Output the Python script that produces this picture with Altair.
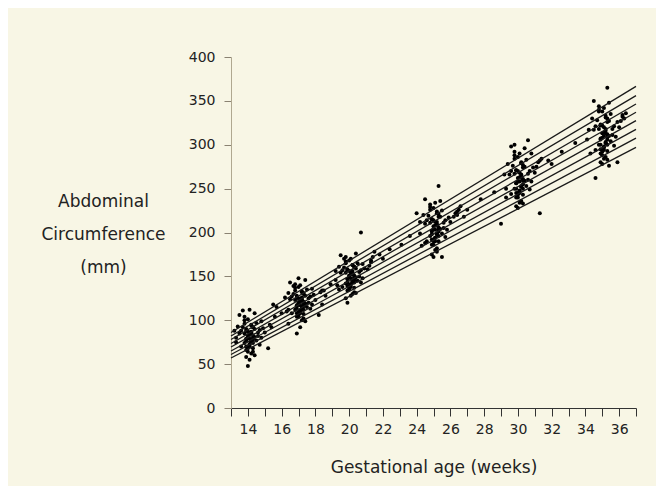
import altair as alt
import pandas as pd

# ---- data ----
ages14 = [14.1,14.3,13.9,14.4,13.8,14.2,14.0,14.6,13.9,13.6,14.5,14.0,14.3,13.7,14.1,14.8,14.2,13.5,14.5,14.3,13.9,14.7,13.8,14.2,14.9,13.6,14.4,13.9,14.6,13.4,15.0,14.1,13.3,15.3,14.3,13.2,15.5,14.0,13.8,14.7,15.7,13.3,15.2,14.1,13.5,15.4,14.4,13.7,14.8,14.2,14.0,14.2,13.9,14.3,14.1]
ac14 = [84,78,90,81,74,95,70,86,66,88,77,101,83,92,73,80,62,85,97,68,79,89,104,76,91,70,108,58,82,93,86,112,75,95,64,88,118,48,100,72,115,80,68,55,106,92,60,111,99,87,80,86,76,92,70]
core14_age = [14.0,14.2,13.9,14.3,14.1,13.8,14.4,14.0,14.2,13.9,14.1,14.3,13.8,14.0,14.2,14.1,13.9,14.3,14.0,14.2]
core14_ac = [82,76,88,80,72,85,90,68,94,78,86,74,96,64,84,79,70,92,87,75]

ages17 = [17.1,17.3,16.9,17.4,16.8,17.2,17.0,17.6,16.9,16.6,17.5,17.0,17.3,16.7,17.1,17.8,17.2,16.5,17.5,17.3,16.9,17.7,16.8,17.2,17.9,16.6,17.4,16.9,17.6,16.4,18.0,17.1,16.3,18.3,17.3,16.2,18.5,17.0,16.8,17.7,18.6,16.4,18.2,17.1,16.5,18.4,17.4,16.7,17.8,17.2,17.0,17.2,16.9,17.3,17.1]
ac17 = [122,116,128,119,112,133,109,125,104,127,115,138,121,130,111,118,100,124,135,107,117,127,141,114,129,108,146,85,120,131,123,140,110,132,102,126,134,148,137,113,128,96,106,92,143,118,99,139,136,124,119,126,113,131,108]
core17_age = [17.0,17.2,16.9,17.3,17.1,16.8,17.4,17.0,17.2,16.9,17.1,17.3,16.8,17.0,17.2,17.1,16.9,17.3,17.0,17.2]
core17_ac = [120,114,126,118,110,123,128,106,132,116,124,112,134,104,122,117,108,130,125,113]

ages20 = [20.1,20.3,19.9,20.4,19.8,20.2,20.0,20.6,19.9,19.6,20.5,20.0,20.3,19.7,20.1,20.8,20.2,19.5,20.5,20.3,19.9,20.7,19.8,20.2,20.9,19.6,20.4,19.9,20.6,19.4,20.7,20.1,19.3,21.2,20.3,19.2,21.4,19.8,19.8,20.7,21.5,19.4,21.1,20.1,19.5,21.3,20.4,19.7,20.8,20.2,20.0,20.2,19.9,20.3,20.1]
ac20 = [152,146,158,149,142,163,139,155,134,157,145,168,151,160,141,148,130,154,165,137,147,157,172,144,159,138,176,120,150,161,200,170,140,162,132,156,172,125,167,143,178,135,158,128,174,166,131,170,164,153,149,156,143,161,138]
core20_age = [20.0,20.2,19.9,20.3,20.1,19.8,20.4,20.0,20.2,19.9,20.1,20.3,19.8,20.0,20.2,20.1,19.9,20.3,20.0,20.2]
core20_ac = [151,145,157,149,141,154,159,137,163,147,155,143,165,135,153,148,139,161,156,144]

ages25 = [25.1,25.3,24.9,25.4,24.8,25.2,25.0,25.6,24.9,24.6,25.5,25.0,25.3,24.7,25.1,25.8,25.2,24.5,25.5,25.3,24.9,25.7,24.8,25.2,25.9,24.6,25.4,24.9,25.6,24.4,26.0,25.1,24.3,26.3,25.2,24.2,26.5,25.0,24.8,25.7,26.6,24.5,26.2,25.1,24.5,26.4,25.3,25.5,24.0,25.2,25.0,25.2,24.9,25.3,25.1]
ac25 = [208,201,215,204,196,222,192,211,186,214,199,228,206,219,194,203,182,210,225,190,202,214,232,198,217,190,236,175,205,220,212,234,185,222,178,212,226,172,229,195,230,188,218,180,238,224,253,172,222,209,204,212,198,218,190]
core25_age = [25.0,25.2,24.9,25.3,25.1,24.8,25.4,25.0,25.2,24.9,25.1,25.3,24.8,25.0,25.2,25.1,24.9,25.3,25.0,25.2]
core25_ac = [207,199,215,204,194,211,218,190,224,201,212,196,226,186,209,203,192,221,214,198]

ages30 = [30.1,30.3,29.9,30.4,29.8,30.2,30.0,30.6,29.9,29.6,30.5,30.0,30.3,29.7,30.1,30.8,30.2,29.5,30.5,30.3,29.9,30.7,29.8,30.2,30.9,29.6,30.4,29.9,30.6,29.4,31.0,30.1,29.3,31.2,30.3,29.2,31.4,30.0,29.8,30.7,31.3,29.0,31.1,30.1,29.6,31.3,30.6,29.8,30.8,30.2,30.0,30.2,29.9,30.3,30.1]
ac30 = [263,255,271,259,250,279,245,267,240,270,253,286,261,276,248,258,236,266,283,243,256,270,292,252,274,244,296,230,260,278,268,290,240,280,233,266,284,228,288,249,222,210,275,234,298,282,305,300,290,262,258,266,250,274,245]
core30_age = [30.0,30.2,29.9,30.3,30.1,29.8,30.4,30.0,30.2,29.9,30.1,30.3,29.8,30.0,30.2,30.1,29.9,30.3,30.0,30.2]
core30_ac = [262,253,271,259,247,267,275,243,280,256,268,250,284,240,265,258,245,277,270,252]

ages35 = [35.1,35.3,34.9,35.4,34.8,35.2,35.0,35.6,34.9,34.6,35.5,35.0,35.3,34.7,35.1,35.8,35.2,34.5,35.5,35.3,34.9,35.7,34.8,35.2,35.9,34.6,35.4,34.9,35.6,34.4,36.0,35.1,34.3,36.2,35.3,34.2,36.4,35.0,34.8,35.7,36.3,34.6,36.1,35.1,34.5,36.2,35.3,35.4,35.9,35.2,35.0,35.2,34.9,35.3,35.1]
ac35 = [314,306,322,310,300,331,295,318,290,321,304,338,312,328,298,309,286,317,335,293,307,321,344,302,326,294,348,280,311,330,320,342,290,332,283,317,336,278,340,299,330,262,327,284,350,334,365,276,280,313,308,318,300,326,294]
core35_age = [35.0,35.2,34.9,35.3,35.1,34.8,35.4,35.0,35.2,34.9,35.1,35.3,34.8,35.0,35.2,35.1,34.9,35.3,35.0,35.2]
core35_ac = [313,303,323,309,297,318,327,292,333,306,320,300,338,288,316,310,295,330,322,302]

ages_mid = [15.6,16.0,18.4,18.9,19.2,21.3,21.8,22.4,23.1,23.6,24.2,26.4,27.0,27.8,28.6,29.3,31.8,32.6,33.4,34.1,22.0,26.8,32.0,16.4]
ac_mid = [104,108,134,141,146,168,175,181,186,196,199,220,226,238,246,250,282,292,302,306,170,218,278,112]

# centile lines: value at 13 weeks and at 37 weeks
line_ages = [13, 37]
line_left = [57, 61, 65, 69.5, 73.5, 78, 82, 86]
line_right = [297, 307.5, 317.5, 327.5, 337, 346.5, 356, 366.5]

x_ticks = list(range(13, 38))
y_ticks = list(range(0, 401, 50))

# ---- tables ----
pts = []
for a_list, v_list in [(ages14, ac14), (core14_age, core14_ac),
                       (ages17, ac17), (core17_age, core17_ac),
                       (ages20, ac20), (core20_age, core20_ac),
                       (ages25, ac25), (core25_age, core25_ac),
                       (ages30, ac30), (core30_age, core30_ac),
                       (ages35, ac35), (core35_age, core35_ac),
                       (ages_mid, ac_mid)]:
    for a, v in zip(a_list, v_list):
        pts.append({"age": a, "ac": v})
pts_df = pd.DataFrame(pts)

rows = []
for i, (l, r) in enumerate(zip(line_left, line_right)):
    rows.append({"line": i, "age": line_ages[0], "ac": l})
    rows.append({"line": i, "age": line_ages[1], "ac": r})
lines_df = pd.DataFrame(rows)

FONT = "DejaVu Sans"

x_enc = alt.X("age:Q", scale=alt.Scale(domain=[13, 37], nice=False, zero=False),
              axis=alt.Axis(values=x_ticks, labelExpr="datum.value % 2 == 0 ? datum.label : ''",
                            title="Gestational age (weeks)", grid=False,
                            tickSize=8, labelPadding=6, tickColor="#333333",
                            domainColor="#333333", labelFlush=False, labelOverlap=False,
                            titleY=59, titleBaseline="middle"))
y_enc = alt.Y("ac:Q", scale=alt.Scale(domain=[0, 400], nice=False),
              axis=alt.Axis(values=y_ticks, title=["Abdominal", "Circumference", "(mm)"],
                            grid=False, tickSize=7, labelPadding=9,
                            tickColor="#8a8272", domainColor="#b0a890",
                            titleAngle=0, titleAlign="center", titleBaseline="middle",
                            titleX=-128, titleY=144, titleLineHeight=33))

points = alt.Chart(pts_df).mark_circle(size=16, color="black", opacity=1).encode(x=x_enc, y=y_enc)
lines = alt.Chart(lines_df).mark_line(color="#1a1a1a", strokeWidth=1.3).encode(
    x=x_enc, y=y_enc, detail="line:N")

chart = alt.layer(points, lines).properties(
    width=405, height=351,
    autosize=alt.AutoSizeParams(type="none"),
    padding={"left": 223, "top": 49, "right": 20, "bottom": 78},
    background="#F8F6E5",
).configure_view(stroke=None).configure_axis(
    labelFont=FONT, titleFont=FONT, labelFontSize=14, titleFontSize=17,
    labelColor="#222222", titleColor="#222222", titleFontWeight="normal",
)

chart.save("out.html", embed_options={"renderer": "svg", "actions": False})
